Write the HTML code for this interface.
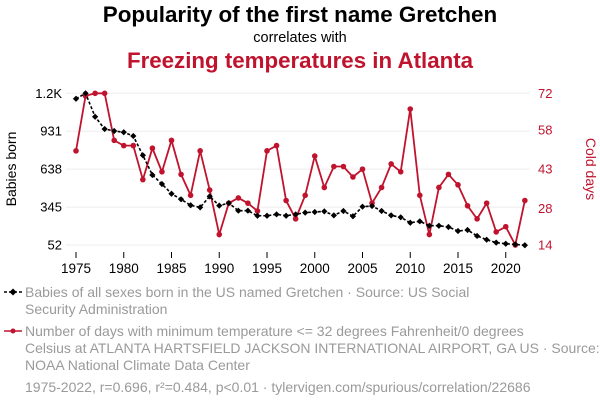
<!DOCTYPE html>
<html><head><meta charset="utf-8"><style>
body{margin:0;background:#fff;width:600px;height:408px;overflow:hidden;font-family:"Liberation Sans",sans-serif}
</style></head><body>
<svg width="600" height="408" xmlns="http://www.w3.org/2000/svg" font-family="Liberation Sans, sans-serif">
<text x="300" y="22" text-anchor="middle" font-size="22.4" font-weight="bold" fill="#000">Popularity of the first name Gretchen</text>
<text x="300" y="42" text-anchor="middle" font-size="14.5" fill="#000">correlates with</text>
<text x="300" y="68" text-anchor="middle" font-size="22.3" font-weight="bold" fill="#c0142e">Freezing temperatures in Atlanta</text>
<g id="grid"></g><g id="axes"></g><g id="series"></g>
<text transform="translate(16,169) rotate(-90)" text-anchor="middle" font-size="14" fill="#000">Babies born</text>
<text transform="translate(586,169) rotate(90)" text-anchor="middle" font-size="14" fill="#c0142e">Cold days</text>
<g>
<line x1="4" y1="292" x2="22" y2="292" stroke="#000" stroke-width="1.5" stroke-dasharray="3,2"/><rect x="10.5" y="289.5" width="5" height="5" transform="rotate(45 13 292)" fill="#000"/>
<text x="25" y="297" font-size="14" fill="#9a9a9a">Babies of all sexes born in the US named Gretchen · Source: US Social</text>
<text x="25" y="314" font-size="14" fill="#9a9a9a">Security Administration</text></g>
<g>
<line x1="4" y1="331" x2="22" y2="331" stroke="#c0142e" stroke-width="1.5"/><circle cx="13" cy="331" r="2.5" fill="#c0142e"/>
<text x="25" y="336" font-size="14" fill="#9a9a9a">Number of days with minimum temperature &lt;= 32 degrees Fahrenheit/0 degrees</text>
<text x="25" y="353" font-size="14" fill="#9a9a9a">Celsius at ATLANTA HARTSFIELD JACKSON INTERNATIONAL AIRPORT, GA US · Source:</text>
<text x="25" y="370" font-size="14" fill="#9a9a9a">NOAA National Climate Data Center</text></g>
<text x="25" y="392" font-size="14" fill="#9a9a9a">1975-2022, r=0.696, r²=0.484, p&lt;0.01 · tylervigen.com/spurious/correlation/22686</text>
</svg>
<script>
const years=[1975,1976,1977,1978,1979,1980,1981,1982,1983,1984,1985,1986,1987,1988,1989,1990,1991,1992,1993,1994,1995,1996,1997,1998,1999,2000,2001,2002,2003,2004,2005,2006,2007,2008,2009,2010,2011,2012,2013,2014,2015,2016,2017,2018,2019,2020,2021,2022];
const babies=[1182,1224,1043,948,933,923,894,745,593,523,448,405,359,343,428,356,376,317,317,278,278,289,278,289,302,307,312,281,315,274,348,353,315,281,266,224,235,201,201,191,160,168,122,93,70,62,57,50];
const cold=[50,71,72,72,54,52,52,39,51,42,54,41,33,50,35,18,30,32,30,27,50,52,31,24,33,48,36,44,44,40,43,30,36,45,42,66,33,18,36,41,37,29,24,30,19,21,14,31];
const leftTicks=[52,345,638,931,1224];
const leftLabels=["52","345","638","931","1.2K"];
const rightTicks=[14,28,43,58,72];
const xTicks=[1975,1980,1985,1990,1995,2000,2005,2010,2015,2020];
const NS="http://www.w3.org/2000/svg";
const x=y=>76+(y-1975)*9.55;
const yl=v=>245-(v-52)/(1224-52)*151.7;
const yr=v=>245-(v-14)/(72-14)*151.7;
function mk(t,a,p){const e=document.createElementNS(NS,t);for(const k in a)e.setAttribute(k,a[k]);p.appendChild(e);return e;}
const grid=document.getElementById('grid'),axes=document.getElementById('axes'),ser=document.getElementById('series');
leftTicks.forEach((v,i)=>{
 const g=mk('line',{x1:66,x2:530,y1:yl(v),y2:yl(v),stroke:'#eee','stroke-width':1},grid);
 
 
 const t=mk('text',{x:62,y:yl(v)+4.5,'text-anchor':'end','font-size':13,fill:'#000'},axes);t.textContent=leftLabels[i];
 
 
});
rightTicks.forEach(v=>{
 const t=mk('text',{x:538,y:yr(v)+4.5,'font-size':13,fill:'#c0142e'},axes);t.textContent=v;
 
 
});
xTicks.forEach(v=>{
 mk('line',{x1:x(v),x2:x(v),y1:252,y2:258,stroke:'#000'},axes);
 const t=mk('text',{x:x(v),y:273,'text-anchor':'middle','font-size':13.5,fill:'#000'},axes);t.textContent=v;
 
 
});
const pr=mk('polyline',{points:years.map((y,i)=>x(y)+','+yr(cold[i])).join(' '),fill:'none',stroke:'#c0142e','stroke-width':1.8},ser);


years.forEach((y,i)=>{const c=mk('circle',{cx:x(y),cy:yr(cold[i]),r:2.8,fill:'#c0142e'},ser);
 
 });
const pb=mk('polyline',{points:years.map((y,i)=>x(y)+','+yl(babies[i])).join(' '),fill:'none',stroke:'#000','stroke-width':1.6,'stroke-dasharray':'3,2'},ser);


years.forEach((y,i)=>{const cx=x(y),cy=yl(babies[i]);const r=mk('rect',{x:cx-2.2,y:cy-2.2,width:4.4,height:4.4,fill:'#000',transform:`rotate(45 ${cx} ${cy})`},ser);
 
 });
</script>
</body></html>
